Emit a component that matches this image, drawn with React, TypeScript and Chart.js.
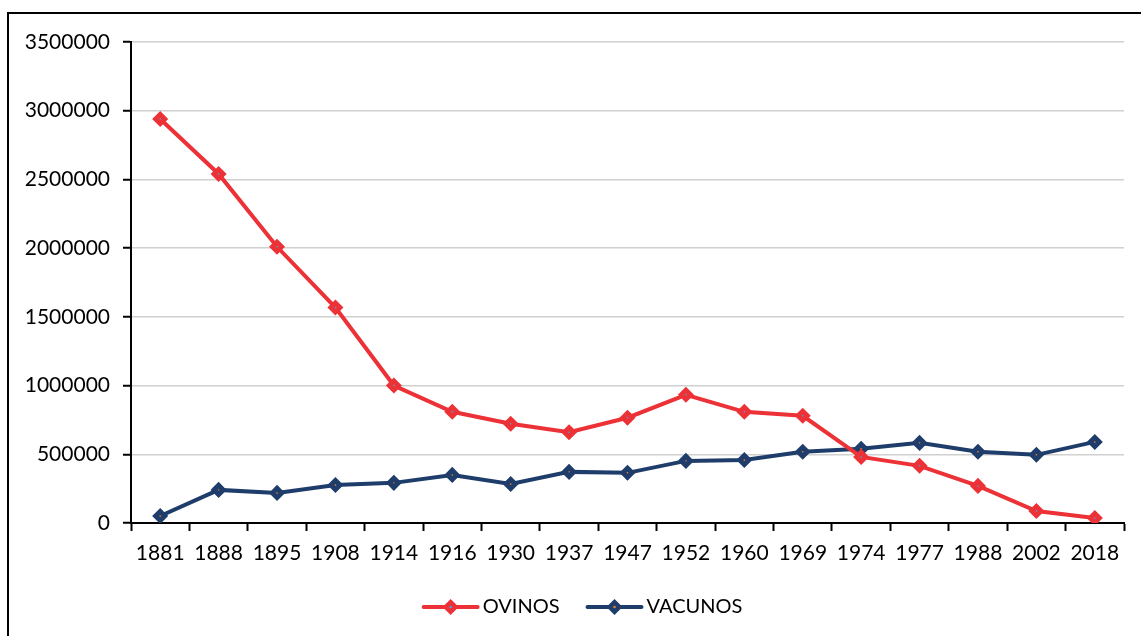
import React, { useEffect, useRef } from "react";
import { Chart, registerables } from "chart.js";
Chart.register(...registerables);

const years = ["1881", "1888", "1895", "1908", "1914", "1916", "1930", "1937", "1947", "1952", "1960", "1969", "1974", "1977", "1988", "2002", "2018"];
const ovinos = [2940000, 2540000, 2010000, 1568000, 1000000, 809000, 722000, 660000, 766000, 933000, 809000, 780000, 481000, 416000, 270000, 87000, 36000];
const vacunos = [51000, 241000, 219000, 277000, 292000, 350000, 284000, 372000, 365000, 452000, 459000, 518000, 540000, 583000, 518000, 496000, 590000];
const seriesNames = ["OVINOS", "VACUNOS"];
const lineColors = ["#EC3237", "#1F3D6B"];
const centerColors = ["#5B9BD5", "#ED7D31"];

const FONT = "Lato";
const LEGEND_SHIFT = 21;
const LEGEND_LINE = 54;

const framePlugin = {
  id: "frame",
  beforeDraw(chart: any) {
    const ctx = chart.ctx;
    ctx.save();
    ctx.fillStyle = "#ffffff";
    ctx.fillRect(0, 0, chart.width, chart.height);
    ctx.strokeStyle = "#000000";
    ctx.lineWidth = 2;
    ctx.strokeRect(8, 13, 3000, 3000);
    ctx.restore();
  },
};

const legendMarkerPlugin = {
  id: "legendMarker",
  afterUpdate(chart: any) {
    const legend = chart.legend;
    if (!legend) return;
    legend.left += LEGEND_SHIFT;
    legend.right += LEGEND_SHIFT;
    (legend.legendHitBoxes || []).forEach((hb: any) => {
      hb.left += LEGEND_SHIFT;
    });
  },
  afterDraw(chart: any) {
    const legend = chart.legend;
    if (!legend || !legend.legendHitBoxes) return;
    const ctx = chart.ctx;
    legend.legendHitBoxes.forEach((hb: any, i: number) => {
      const cx = hb.left + LEGEND_LINE / 2;
      const cy = hb.top + hb.height / 2;
      ctx.save();
      ctx.strokeStyle = lineColors[i];
      ctx.lineWidth = 4;
      ctx.lineCap = "round";
      ctx.beginPath();
      ctx.moveTo(hb.left, cy);
      ctx.lineTo(hb.left + LEGEND_LINE, cy);
      ctx.stroke();
      const r = 4.5;
      ctx.beginPath();
      ctx.moveTo(cx, cy - r);
      ctx.lineTo(cx + r, cy);
      ctx.lineTo(cx, cy + r);
      ctx.lineTo(cx - r, cy);
      ctx.closePath();
      ctx.fillStyle = centerColors[i];
      ctx.fill();
      ctx.lineWidth = 5;
      ctx.lineJoin = "miter";
      ctx.strokeStyle = lineColors[i];
      ctx.stroke();
      ctx.beginPath();
      ctx.arc(cx, cy, 1.2, 0, Math.PI * 2);
      ctx.fillStyle = centerColors[i];
      ctx.fill();
      ctx.restore();
    });
  },
};

export default function App() {
  const ref = useRef<HTMLCanvasElement | null>(null);
  useEffect(() => {
    if (!ref.current) return;
    const chart = new Chart(ref.current, {
      type: "line",
      data: {
        labels: years,
        datasets: [ovinos, vacunos].map((d, i) => ({
          label: seriesNames[i],
          data: d,
          borderColor: lineColors[i],
          backgroundColor: lineColors[i],
          borderWidth: 4,
          tension: 0,
          pointStyle: "rectRot",
          pointRadius: 4.5,
          pointBorderWidth: 5,
          pointBackgroundColor: centerColors[i],
          pointBorderColor: lineColors[i],
        })),
      },
      options: {
        responsive: false,
        animation: false,
        layout: { padding: { top: 42, right: 17, left: 0, bottom: 9 } },
        plugins: {
          tooltip: { enabled: false },
          legend: {
            position: "bottom",
            labels: {
              font: { family: FONT, size: 20 },
              color: "#000000",
              boxWidth: 49,
              boxHeight: 4,
              padding: 28,
              generateLabels: (c: any) =>
                c.data.datasets.map((ds: any, i: number) => ({
                  text: ds.label,
                  fillStyle: "rgba(0,0,0,0)",
                  strokeStyle: "rgba(0,0,0,0)",
                  lineWidth: 0,
                  datasetIndex: i,
                  fontColor: "#000000",
                })),
            },
          },
        },
        scales: {
          x: {
            offset: true,
            grid: {
              offset: true,
              drawOnChartArea: false,
              drawTicks: true,
              tickLength: 8,
              tickColor: "#000000",
              tickWidth: 2,
            },
            border: { display: true, color: "#000000", width: 2 },
            ticks: {
              font: { family: FONT, size: 21 },
              color: "#000000",
              padding: 10,
              maxRotation: 0,
              autoSkip: false,
            },
            afterFit: (s: any) => {
              s.height = 46;
            },
          },
          y: {
            min: 0,
            max: 3500000,
            grid: {
              color: "#D0D0D0",
              lineWidth: 1.5,
              drawTicks: true,
              tickLength: 8,
              tickColor: "#000000",
              tickWidth: 2,
            },
            border: { display: true, color: "#000000", width: 2 },
            ticks: {
              stepSize: 500000,
              font: { family: FONT, size: 21 },
              color: "#000000",
              padding: 13,
              callback: (v: any) => String(v),
            },
            afterFit: (s: any) => {
              s.width = 131;
            },
          },
        },
      },
      plugins: [framePlugin, legendMarkerPlugin],
    });
    return () => chart.destroy();
  }, []);
  return (
    <div style={{ position: "absolute", left: 0, top: 0, width: 1141, height: 636 }}>
      <canvas ref={ref} width={1141} height={636} />
    </div>
  );
}
